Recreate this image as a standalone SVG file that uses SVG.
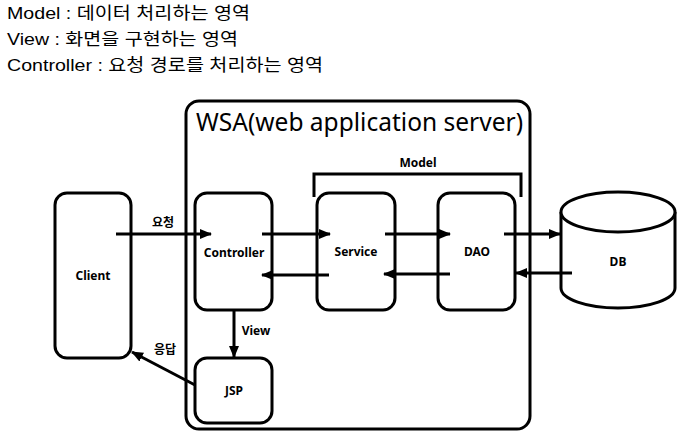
<svg xmlns="http://www.w3.org/2000/svg" width="687" height="439" viewBox="0 0 687 439">
<style>
.hdr{font-family:"Liberation Sans","Noto Sans CJK KR",sans-serif;font-size:17px;fill:#000}
.box{fill:#fff;stroke:#000;stroke-width:3}
.lbl{font-family:"Noto Sans","Noto Sans CJK KR",sans-serif;font-size:12px;font-weight:bold;fill:#000;text-anchor:middle}
.ln{stroke:#000;stroke-width:3;fill:none}
</style>
<defs>
<marker id="ah" markerWidth="12" markerHeight="10" refX="11" refY="5" orient="auto" markerUnits="userSpaceOnUse">
<path d="M0,0 L12,5 L0,10 Z" fill="#000"/>
</marker>
</defs>
<rect width="687" height="439" fill="#fff"/>
<g id="header">
<text class="hdr" x="7" y="19" textLength="243" lengthAdjust="spacingAndGlyphs">Model : 데이터 처리하는 영역</text>
<text class="hdr" x="7" y="45" textLength="231" lengthAdjust="spacingAndGlyphs">View : 화면을 구현하는 영역</text>
<text class="hdr" x="7" y="71" textLength="316" lengthAdjust="spacingAndGlyphs">Controller : 요청 경로를 처리하는 영역</text>
</g>
<g id="wsa">
<rect class="box" x="186" y="101" width="344" height="328" rx="13"/>
<text x="196" y="131" font-family="Noto Sans, sans-serif" font-size="25" textLength="327" lengthAdjust="spacingAndGlyphs">WSA(web application server)</text>
</g>
<g id="model">
<path class="ln" d="M314,197 L314,174 L521,174 L521,197"/>
<text class="lbl" x="418" y="167">Model</text>
</g>
<g id="client">
<rect class="box" x="55" y="193" width="76" height="165" rx="12"/>
<text class="lbl" x="93" y="280">Client</text>
</g>
<g id="controller">
<rect class="box" x="195" y="193" width="77" height="117" rx="12"/>
<text class="lbl" x="234" y="257">Controller</text>
</g>
<g id="service">
<rect class="box" x="317" y="193" width="78" height="117" rx="12"/>
<text class="lbl" x="356" y="256">Service</text>
</g>
<g id="dao">
<rect class="box" x="438" y="193" width="77" height="117" rx="12"/>
<text class="lbl" x="477" y="256">DAO</text>
</g>
<g id="jsp">
<rect class="box" x="195" y="358" width="77" height="65" rx="12"/>
<text class="lbl" x="234" y="395">JSP</text>
</g>
<g id="db">
<path class="box" d="M561,212 L561,288 A57,20 0 0 0 675,288 L675,212"/>
<ellipse class="box" cx="618" cy="212" rx="57" ry="20"/>
<text class="lbl" x="618" y="266">DB</text>
</g>
<g id="connectors">
<line class="ln" x1="116" y1="234" x2="211" y2="234" marker-end="url(#ah)"/>
<text class="lbl" x="163" y="227">요청</text>
<line class="ln" x1="262" y1="234" x2="330" y2="234" marker-end="url(#ah)"/>
<line class="ln" x1="329" y1="275" x2="262" y2="275" marker-end="url(#ah)"/>
<line class="ln" x1="385" y1="234" x2="450" y2="234" marker-end="url(#ah)"/>
<line class="ln" x1="450" y1="274" x2="384" y2="274" marker-end="url(#ah)"/>
<line class="ln" x1="504" y1="234" x2="560" y2="234" marker-end="url(#ah)"/>
<line class="ln" x1="572" y1="273" x2="516" y2="273" marker-end="url(#ah)"/>
<line class="ln" x1="234" y1="310" x2="234" y2="357" marker-end="url(#ah)"/>
<text class="lbl" x="256" y="335">View</text>
<line class="ln" x1="195" y1="385" x2="132" y2="352" marker-end="url(#ah)"/>
<text class="lbl" x="165" y="354">응답</text>
</g>
</svg>
